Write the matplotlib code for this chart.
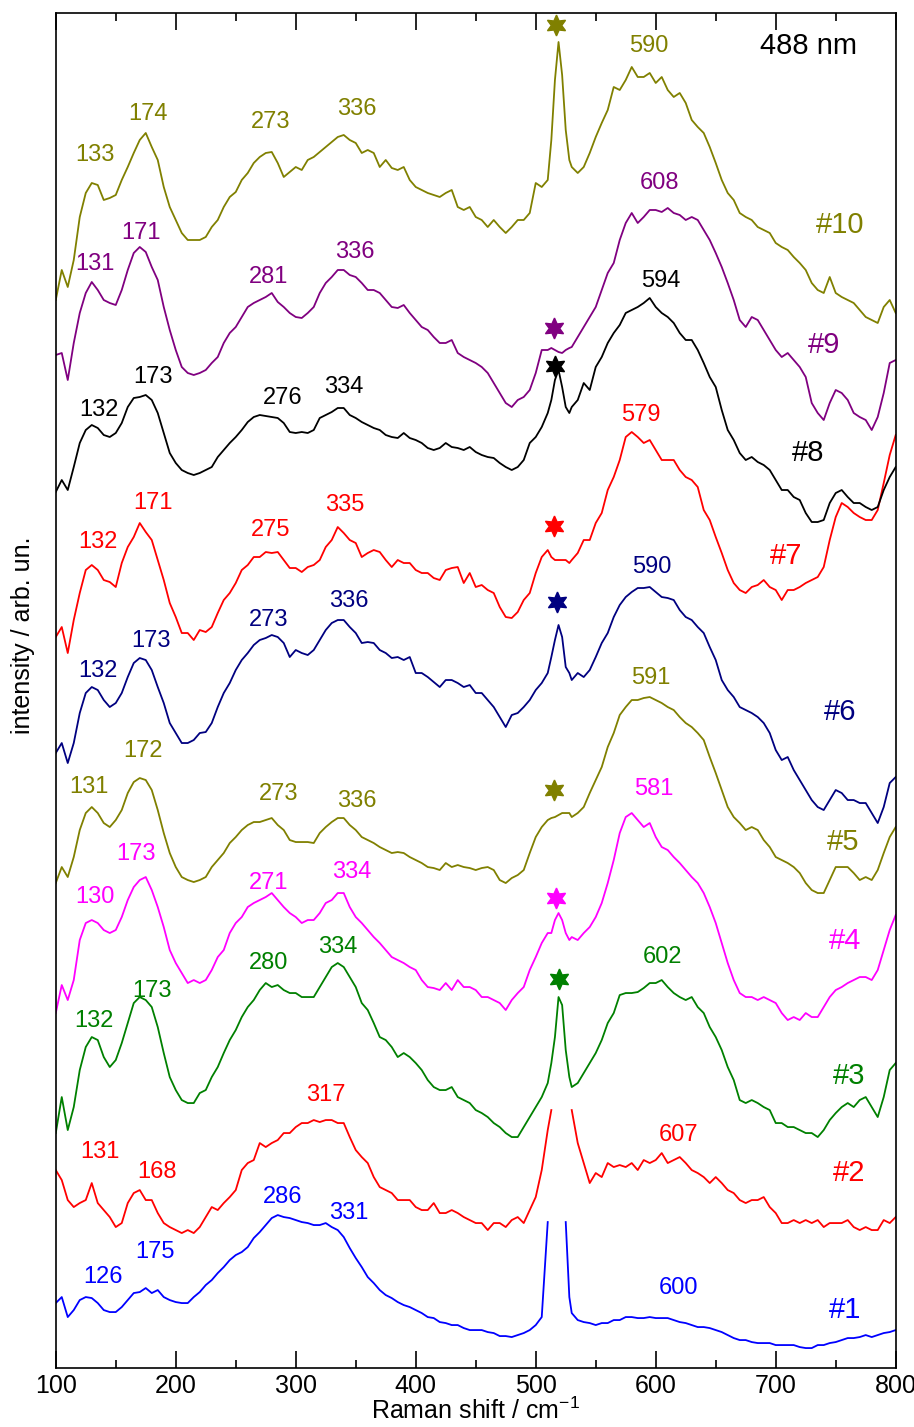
# Raman spectra of samples #1-#10 (488 nm excitation), stacked with offsets
import numpy as np
import matplotlib
matplotlib.use('Agg')
import matplotlib.pyplot as plt

plt.rcParams['font.family'] = 'Liberation Sans'
plt.rcParams['mathtext.fontset'] = 'custom'
plt.rcParams['mathtext.rm'] = 'Liberation Sans'
plt.rcParams['mathtext.it'] = 'Liberation Sans:italic'

nan = np.nan

# Raman shift grid in cm-1 (a bit denser around the Si line at 520)
shift = list(range(100, 510, 5)) + [510, 513, 516, 519, 522, 525, 528] + list(range(530, 805, 5))

# spectra, already offset (arb. units)
s10 = [1068, 1098, 1081, 1108, 1151, 1175, 1185, 1183, 1168, 1170,
       1173, 1188, 1201, 1215, 1228, 1235, 1221, 1208, 1181, 1161,
       1148, 1135, 1128, 1128, 1128, 1131, 1141, 1148, 1161, 1171,
       1176, 1188, 1195, 1205, 1211, 1215, 1216, 1205, 1191, 1196,
       1201, 1198, 1208, 1211, 1216, 1221, 1226, 1231, 1233, 1228,
       1225, 1215, 1218, 1215, 1201, 1208, 1200, 1198, 1201, 1188,
       1181, 1178, 1175, 1173, 1171, 1175, 1178, 1161, 1158, 1161,
       1151, 1148, 1141, 1148, 1141, 1135, 1141, 1148, 1148, 1155,
       1185, 1181,
       1188, 1228, 1288, 1326, 1293, 1238, 1208,
       1201, 1195, 1201, 1215, 1231, 1245, 1258, 1281, 1278, 1288,
       1301, 1291, 1291, 1295, 1285, 1291, 1278, 1271, 1275, 1265,
       1248, 1241, 1235, 1221, 1205, 1188, 1175, 1168, 1155, 1151,
       1148, 1141, 1138, 1135, 1125, 1121, 1118, 1111, 1105, 1098,
       1085, 1078, 1075, 1091, 1075, 1071, 1068, 1065, 1058, 1051,
       1048, 1045, 1061, 1068, 1055]

s9 = [1013, 1015, 988, 1025, 1055, 1075, 1086, 1078, 1068, 1065,
      1063, 1078, 1098, 1115, 1121, 1116, 1101, 1088, 1061, 1038,
      1018, 1001, 995, 993, 995, 998, 1005, 1011, 1025, 1035,
      1041, 1051, 1061, 1065, 1068, 1071, 1075, 1066, 1061, 1055,
      1051, 1050, 1055, 1061, 1075, 1085, 1091, 1098, 1098, 1093,
      1091, 1085, 1078, 1078, 1075, 1068, 1061, 1060, 1063, 1055,
      1048, 1041, 1038, 1031, 1025, 1025, 1028, 1015, 1011, 1008,
      1005, 1001, 995, 985, 975, 965, 961, 968, 971, 978,
      995, 1018,
      1018, 1020, 1018, 1016, 1015, 1018, 1020,
      1021, 1031, 1041, 1051, 1061, 1078, 1095, 1105, 1128, 1145,
      1155, 1145, 1151, 1158, 1158, 1156, 1160, 1155, 1153, 1148,
      1151, 1148, 1138, 1128, 1115, 1101, 1085, 1068, 1048, 1041,
      1051, 1048, 1038, 1028, 1018, 1011, 1015, 1008, 1001, 991,
      965, 955, 948, 965, 978, 975, 968, 955, 951, 948,
      938, 951, 975, 1005, 1008]

s8 = [876, 888, 878, 901, 925, 938, 943, 940, 933, 931,
      935, 945, 961, 970, 971, 973, 968, 955, 935, 915,
      905, 898, 895, 893, 895, 898, 901, 911, 918, 925,
      931, 938, 946, 951, 953, 952, 951, 950, 945, 936,
      935, 936, 935, 938, 950, 953, 956, 960, 960, 953,
      950, 946, 943, 940, 938, 933, 931, 930, 935, 930,
      928, 925, 920, 918, 920, 925, 921, 920, 918, 921,
      916, 913, 911, 910, 905, 901, 898, 901, 908, 925,
      931, 941,
      955, 968, 988, 998, 981, 961, 955,
      961, 968, 985, 978, 1001, 1011, 1025, 1035, 1043, 1055,
      1058, 1061, 1065, 1070, 1061, 1055, 1051, 1045, 1035, 1028,
      1028, 1018, 1005, 991, 981, 958, 938, 928, 915, 908,
      911, 906, 903, 898, 888, 878, 878, 871, 868, 855,
      846, 846, 848, 865, 875, 878, 871, 865, 865, 861,
      858, 861, 878, 891, 901]

s7 = [731, 741, 715, 748, 775, 798, 803, 798, 788, 786,
      781, 805, 821, 831, 845, 836, 828, 808, 788, 765,
      751, 735, 735, 728, 738, 736, 741, 755, 768, 775,
      785, 798, 803, 811, 811, 816, 815, 816, 808, 800,
      800, 796, 801, 803, 808, 821, 828, 841, 835, 828,
      825, 811, 815, 818, 816, 808, 801, 808, 805, 805,
      798, 795, 795, 790, 788, 798, 800, 801, 785, 795,
      781, 783, 778, 775, 761, 751, 750, 756, 768, 775,
      795, 811,
      818, 811, 808, 808, 808, 808, 805,
      808, 815, 828, 828, 845, 855, 878, 891, 908, 931,
      936, 931, 925, 928, 918, 908, 908, 908, 898, 891,
      888, 881, 858, 848, 831, 815, 798, 785, 778, 775,
      781, 783, 788, 781, 778, 768, 778, 778, 781, 785,
      788, 791, 801, 828, 851, 865, 861, 855, 851, 848,
      848, 858, 885, 913, 933]

s6 = [615, 625, 605, 625, 655, 675, 681, 678, 668, 661,
      665, 675, 691, 705, 710, 708, 698, 681, 665, 645,
      635, 625, 625, 628, 635, 636, 645, 661, 675, 685,
      698, 708, 715, 723, 728, 730, 733, 731, 725, 711,
      718, 715, 713, 718, 728, 738, 745, 748, 748, 741,
      735, 725, 726, 725, 718, 715, 710, 711, 708, 711,
      695, 695, 691, 686, 681, 688, 688, 685, 681, 683,
      675, 675, 668, 661, 651, 641, 653, 655, 661, 668,
      678, 685,
      695, 711, 728, 743, 731, 701, 695,
      688, 695, 691, 698, 711, 725, 735, 751, 763, 771,
      776, 780, 780, 781, 776, 771, 770, 768, 758, 751,
      748, 741, 735, 721, 708, 688, 678, 671, 661, 658,
      655, 651, 645, 635, 618, 608, 611, 598, 588, 578,
      568, 561, 558, 568, 578, 575, 568, 568, 565, 565,
      555, 545, 561, 585, 591]

s5 = [485, 501, 491, 511, 538, 555, 561, 555, 545, 541,
      548, 558, 575, 586, 590, 588, 578, 558, 535, 515,
      501, 491, 488, 486, 488, 491, 501, 508, 515, 525,
      531, 538, 543, 546, 546, 548, 550, 543, 538, 528,
      526, 526, 526, 525, 535, 541, 546, 550, 550, 543,
      538, 531, 528, 525, 521, 518, 515, 516, 515, 511,
      508, 505, 501, 500, 498, 505, 501, 503, 501, 500,
      498, 500, 501, 498, 488, 485, 490, 493, 498, 515,
      531, 541,
      548, 550, 551, 553, 555, 555, 555,
      551, 555, 561, 575, 588, 601, 621, 635, 653, 661,
      668, 668, 670, 671, 668, 665, 661, 658, 651, 645,
      641, 635, 628, 611, 595, 578, 561, 551, 545, 538,
      541, 538, 528, 521, 511, 508, 505, 501, 495, 485,
      478, 475, 475, 488, 501, 501, 501, 495, 488, 491,
      488, 498, 515, 531, 541]

s4 = [355, 383, 368, 388, 428, 445, 448, 445, 438, 435,
      438, 451, 468, 481, 488, 491, 478, 461, 441, 418,
      405, 395, 385, 388, 385, 388, 398, 411, 418, 435,
      445, 451, 461, 465, 468, 471, 475, 468, 461, 455,
      451, 445, 448, 448, 455, 465, 468, 475, 475, 461,
      451, 445, 438, 431, 425, 418, 411, 408, 405, 401,
      398, 388, 381, 380, 378, 385, 378, 388, 381, 381,
      378, 371, 371, 368, 365, 358, 368, 375, 381, 398,
      411, 425,
      435, 435, 448, 455, 448, 435, 428,
      431, 428, 435, 441, 451, 465, 485, 508, 535, 551,
      555, 548, 541, 545, 531, 521, 518, 511, 505, 498,
      491, 485, 475, 461, 445, 425, 405, 388, 375, 371,
      371, 368, 371, 368, 365, 355, 348, 351, 348, 355,
      351, 351, 361, 371, 378, 381, 385, 388, 391, 391,
      388, 398, 418, 438, 453]

s3 = [235, 271, 238, 261, 298, 321, 331, 328, 311, 301,
      308, 325, 345, 365, 371, 368, 361, 341, 315, 291,
      278, 268, 265, 265, 275, 278, 291, 301, 315, 328,
      338, 351, 361, 368, 378, 385, 381, 383, 378, 375,
      375, 371, 371, 371, 381, 391, 401, 405, 401, 391,
      381, 365, 358, 345, 331, 328, 321, 311, 315, 311,
      305, 298, 288, 281, 278, 278, 281, 271, 268, 265,
      258, 255, 251, 245, 241, 235, 231, 231, 241, 251,
      261, 271,
      285, 305, 331, 371, 363, 318, 291,
      281, 285, 295, 305, 315, 328, 345, 355, 373, 375,
      375, 376, 380, 385, 385, 388, 381, 375, 371, 368,
      371, 361, 355, 341, 331, 318, 301, 288, 268, 265,
      268, 265, 261, 258, 245, 245, 241, 241, 238, 235,
      235, 231, 238, 248, 255, 261, 265, 261, 268, 271,
      261, 251, 271, 298, 305]

# strong Si line of #2 and #1 is cut off (gap in the curve)
s2 = [198, 188, 168, 161, 165, 168, 185, 165, 158, 151,
      141, 145, 165, 175, 178, 168, 168, 155, 145, 141,
      138, 135, 138, 135, 141, 151, 161, 158, 165, 171,
      178, 198, 205, 208, 225, 221, 225, 228, 235, 235,
      241, 245, 245, 248, 246, 248, 248, 245, 245, 231,
      218, 211, 205, 191, 181, 178, 175, 168, 168, 168,
      161, 158, 158, 165, 155, 155, 158, 155, 151, 148,
      145, 145, 138, 145, 145, 141, 148, 151, 145, 158,
      171, 198,
      238, 258, nan, nan, nan, nan, nan,
      258, 225, 205, 185, 195, 191, 205, 201, 203, 201,
      205, 198, 208, 205, 208, 215, 205, 208, 211, 205,
      198, 195, 191, 185, 191, 185, 178, 175, 168, 165,
      168, 168, 171, 161, 155, 145, 145, 148, 145, 148,
      145, 148, 141, 145, 145, 145, 148, 141, 138, 141,
      138, 138, 148, 145, 151]

s1 = [65, 71, 51, 58, 68, 71, 70, 65, 58, 56,
      56, 61, 68, 75, 76, 80, 75, 78, 71, 68,
      66, 65, 65, 71, 76, 83, 88, 95, 101, 108,
      113, 116, 121, 130, 136, 143, 150, 153, 151, 150,
      148, 146, 145, 143, 143, 145, 141, 138, 131, 120,
      110, 101, 91, 85, 78, 73, 70, 66, 63, 61,
      58, 55, 51, 50, 46, 45, 43, 43, 40, 38,
      38, 38, 36, 35, 32, 32, 31, 33, 35, 38,
      43, 51,
      146, nan, nan, nan, nan, 146, 71,
      55, 48, 46, 45, 43, 45, 45, 48, 48, 51,
      51, 50, 50, 51, 50, 50, 50, 48, 46, 45,
      43, 41, 41, 40, 38, 36, 33, 30, 28, 28,
      26, 25, 25, 25, 23, 23, 23, 23, 21, 20,
      20, 23, 23, 25, 26, 28, 30, 30, 31, 33,
      31, 33, 35, 36, 38]

samples = ['#1', '#2', '#3', '#4', '#5', '#6', '#7', '#8', '#9', '#10']
spectra = [s1, s2, s3, s4, s5, s6, s7, s8, s9, s10]
colors = ['#0000ff', '#ff0000', '#008000', '#ff00ff', '#808000',
          '#000080', '#ff0000', '#000000', '#800080', '#808000']

# peak positions written above each spectrum
peaks = {
    '#10': ['133', '174', '273', '336', '590'],
    '#9': ['131', '171', '281', '336', '608'],
    '#8': ['132', '173', '276', '334', '594'],
    '#7': ['132', '171', '275', '335', '579'],
    '#6': ['132', '173', '273', '336', '590'],
    '#5': ['131', '172', '273', '336', '591'],
    '#4': ['130', '173', '271', '334', '581'],
    '#3': ['132', '173', '280', '334', '602'],
    '#2': ['131', '168', '317', '607'],
    '#1': ['126', '175', '286', '331', '600'],
}

# --- layout (where things go on the axes) ---
peak_xy = {
    '#10': [(133, 1213), (177, 1254), (279, 1246), (351, 1259), (594, 1322)],
    '#9': [(133, 1104), (171, 1135), (277, 1091), (349, 1116), (603, 1185)],
    '#8': [(136, 958), (181, 991), (289, 970), (340, 981), (604, 1087)],
    '#7': [(135, 826), (181, 865), (279, 838), (341, 863), (588, 953)],
    '#6': [(135, 697), (179, 727), (277, 748), (344, 767), (597, 801)],
    '#5': [(128, 581), (173, 617), (286, 574), (351, 567), (596, 690)],
    '#4': [(133, 471), (167, 514), (277, 485), (347, 496), (598, 579)],
    '#3': [(132, 347), (180, 377), (277, 405), (335, 421), (606, 411)],
    '#2': [(137, 216), (184, 196), (325, 273), (619, 233)],
    '#1': [(139, 91), (183, 116), (289, 171), (344, 155), (619, 80)],
}
name_xy = {'#10': (754, 1143), '#9': (740, 1023), '#8': (727, 915), '#7': (709, 812),
           '#6': (754, 656), '#5': (756, 526), '#4': (758, 427), '#3': (761, 292),
           '#2': (761, 195), '#1': (758, 58)}
# stars mark the Si line of the substrate
star_xy = {'#10': (517, 1343), '#9': (515, 1040), '#8': (516, 1002), '#7': (515, 842),
           '#6': (518, 766), '#5': (515, 578), '#4': (517, 470), '#3': (519, 389)}

fig = plt.figure(figsize=(9.14, 14.27), dpi=100)
ax = fig.add_axes([0.061, 0.0413, 0.919, 0.9496])

for name, s, c in zip(samples, spectra, colors):
    ax.plot(shift, s, color=c, lw=1.3)
    for txt, (px, py) in zip(peaks[name], peak_xy[name]):
        ax.text(px, py, txt, color=c, fontsize=17, ha='center', va='center')
    nx, ny = name_xy[name]
    ax.text(nx, ny, name, color=c, fontsize=21, ha='center', va='center')
    if name in star_xy:
        sx, sy = star_xy[name]
        ax.plot(sx, sy, marker=(6, 1, 0), ms=15, color=c, ls='none')

ax.text(727, 1322, '488 nm', color='black', fontsize=21, ha='center', va='center')

ax.set_xlim(100, 800)
ax.set_ylim(0, 1355)
ax.set_yticks([])
ax.set_xticks(range(100, 801, 100))
ax.set_xticks(range(150, 800, 100), minor=True)
ax.tick_params(axis='x', which='both', direction='in', top=True, bottom=True,
               width=1.2, labelsize=18, pad=4)
ax.tick_params(axis='x', which='major', length=12)
ax.tick_params(axis='x', which='minor', length=6)
plt.setp(ax.spines.values(), linewidth=1.2)

ax.set_xlabel('Raman shift / cm$^{-1}$', fontsize=18, labelpad=0)
ax.text(-0.039, 0.541, 'intensity / arb. un.', rotation=90, fontsize=18,
        ha='center', va='center', transform=ax.transAxes)

fig.savefig('out.png', dpi=100)
